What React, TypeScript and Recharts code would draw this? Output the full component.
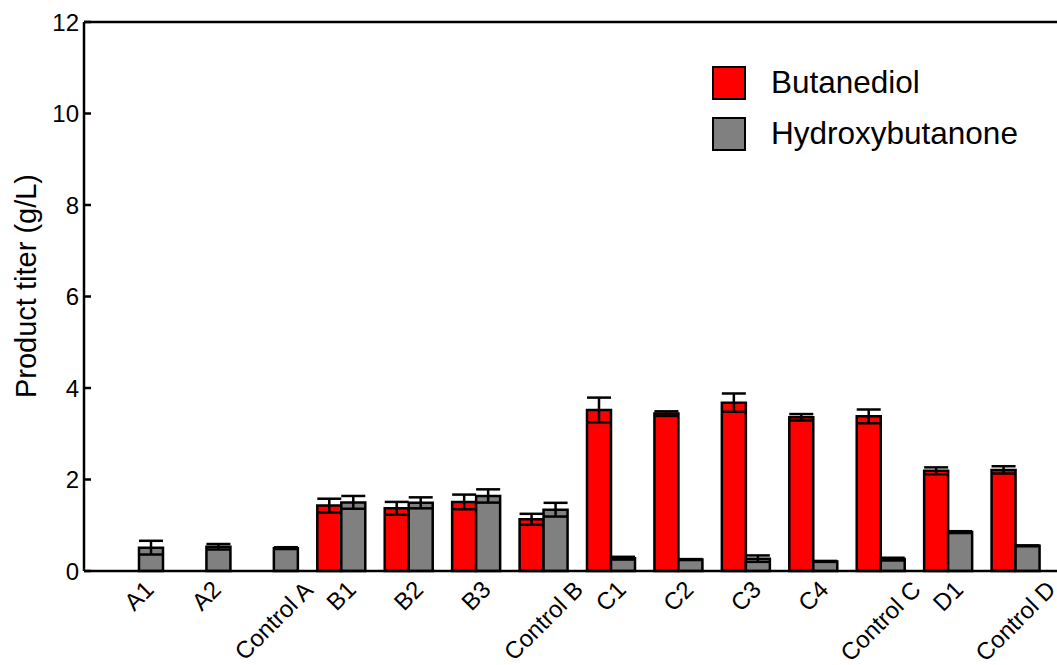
import { BarChart, Bar, XAxis, YAxis, ErrorBar, ReferenceLine } from "recharts";

const categories = ["A1", "A2", "Control A", "B1", "B2", "B3", "Control B", "C1", "C2", "C3", "C4", "Control C", "D1", "Control D"];
const butanediol = [0, 0, 0, 1.43, 1.37, 1.51, 1.13, 3.52, 3.44, 3.68, 3.36, 3.38, 2.19, 2.21];
const butanediolErr = [0, 0, 0, 0.15, 0.14, 0.16, 0.12, 0.27, 0.05, 0.2, 0.07, 0.15, 0.075, 0.08];
const hydroxybutanone = [0.51, 0.53, 0.5, 1.5, 1.49, 1.64, 1.34, 0.28, 0.25, 0.27, 0.21, 0.26, 0.85, 0.55];
const hydroxybutanoneErr = [0.15, 0.06, 0.02, 0.14, 0.12, 0.145, 0.15, 0.03, 0.01, 0.07, 0.01, 0.03, 0.02, 0.01];
const yTicks = [0, 2, 4, 6, 8, 10, 12];

const series = [
  { key: "bdo", name: "Butanediol", color: "#ff0000" },
  { key: "hb", name: "Hydroxybutanone", color: "#808080" },
];

const data = categories.map((name, i) => ({
  name,
  bdo: butanediol[i],
  bdoErr: butanediolErr[i],
  hb: hydroxybutanone[i],
  hbErr: hydroxybutanoneErr[i],
}));

const FONT = "'Liberation Sans', Arial, sans-serif";
const AXIS_X = 84;
const TICK_FONT = 24;

let ctx: CanvasRenderingContext2D | null = null;
function measure(text: string, size: number) {
  if (!ctx) ctx = document.createElement("canvas").getContext("2d");
  if (!ctx) return text.length * size * 0.55;
  ctx.font = `${size}px ${FONT}`;
  return ctx.measureText(text).width;
}

// rotated labels: centred on the category, top of the box on one line
function XTick(props: any) {
  const { x, y, payload } = props;
  const w = measure(payload.value, TICK_FONT);
  const ext = (w + TICK_FONT * 0.72) / Math.SQRT2;
  const cy = y + ext / 2;
  return (
    <text
      x={x}
      y={cy}
      textAnchor="middle"
      dominantBaseline="central"
      fontSize={TICK_FONT}
      fontFamily={FONT}
      fill="#000"
      transform={`rotate(-45 ${x} ${cy})`}
    >
      {payload.value}
    </text>
  );
}

// ticks point inward
function YTick(props: any) {
  const { y, payload } = props;
  return (
    <g>
      <line x1={AXIS_X} x2={AXIS_X + 7} y1={y} y2={y} stroke="#000" strokeWidth={2.5} />
      <text x={AXIS_X - 5} y={y} textAnchor="end" dominantBaseline="central" fontSize={TICK_FONT} fontFamily={FONT} fill="#000">
        {payload.value}
      </text>
    </g>
  );
}

export default function App() {
  return (
    <div style={{ position: "absolute", left: 0, top: 0, width: 1057, height: 665, overflow: "hidden", background: "#fff" }}>
      <BarChart
        width={1057}
        height={665}
        data={data}
        margin={{ top: 22, right: 0, left: 0, bottom: 0 }}
        barGap={0}
        barSize={24}
      >
        <XAxis
          dataKey="name"
          interval={0}
          height={94}
          tickLine={false}
          tickSize={0}
          tickMargin={8}
          axisLine={{ stroke: "#000", strokeWidth: 2.5 }}
          padding={{ left: 21, right: 8 }}
          tick={<XTick />}
        />
        <YAxis
          width={AXIS_X}
          domain={[0, 12]}
          ticks={yTicks}
          tickLine={false}
          tickSize={0}
          axisLine={{ stroke: "#000", strokeWidth: 2.5 }}
          tick={<YTick />}
          label={{
            value: "Product titer (g/L)",
            content: () => (
              <text
                x={36}
                y={286}
                textAnchor="middle"
                fontSize={29}
                fontFamily={FONT}
                fill="#000"
                transform="rotate(-90 36 286)"
              >
                Product titer (g/L)
              </text>
            ),
          }}
        />
        <ReferenceLine y={12} stroke="#000" strokeWidth={2.5} />
        {series.map((s) => (
          <Bar key={s.key} dataKey={s.key} name={s.name} fill={s.color} stroke="#000" strokeWidth={2.5} isAnimationActive={false}>
            <ErrorBar dataKey={s.key + "Err"} width={12} stroke="#000" strokeWidth={2.5} direction="y" />
          </Bar>
        ))}
      </BarChart>
      <div style={{ position: "absolute", left: 712, top: 57, fontFamily: FONT }}>
        {series.map((s) => (
          <div key={s.key} style={{ display: "flex", alignItems: "center", height: 51 }}>
            <div
              style={{
                width: 34,
                height: 34,
                boxSizing: "border-box",
                background: s.color,
                border: "2.5px solid #000",
              }}
            />
            <span style={{ marginLeft: 25, fontSize: 31.5, color: "#000", whiteSpace: "nowrap" }}>{s.name}</span>
          </div>
        ))}
      </div>
    </div>
  );
}
